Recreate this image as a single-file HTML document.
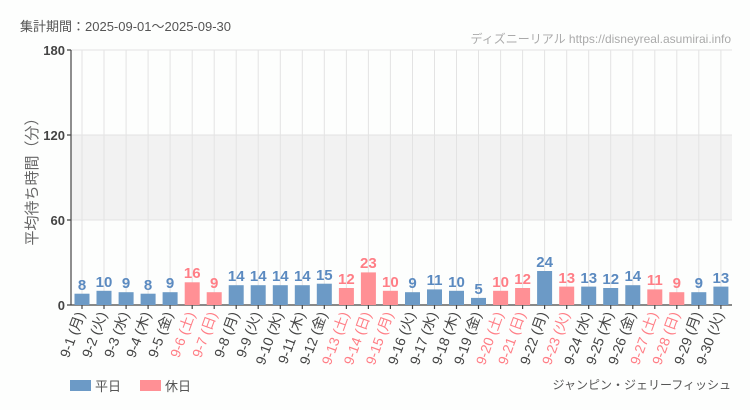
<!DOCTYPE html>
<html><head><meta charset="utf-8"><style>
body{margin:0;background:#fdfefd}
svg{display:block;font-family:"Liberation Sans","Noto Sans CJK JP",sans-serif}
.v{font-family:"Liberation Sans Narrow","Liberation Sans",sans-serif;font-weight:bold;font-size:15px;text-anchor:middle}
.b{fill:#5b8ac0}.r{fill:#ff7e86}
.xl{font-size:14px;text-anchor:end;fill:#444}
.xr{font-size:14px;text-anchor:end;fill:#ff7e86}
</style></head><body>
<svg width="750" height="410" viewBox="0 0 750 410">
<text x="20" y="31" font-size="13" fill="#555">集計期間：2025-09-01～2025-09-30</text>
<text x="731" y="43" font-size="12" fill="#aaa" text-anchor="end" font-family="Liberation Sans Narrow, Liberation Sans, Noto Sans CJK JP, sans-serif">ディズニーリアル https://disneyreal.asumirai.info</text>
<rect x="71" y="135" width="661" height="85" fill="#f2f2f2"/>
<g stroke="#e3e3e3" stroke-width="1">
<line x1="71" y1="50" x2="732" y2="50"/><line x1="71" y1="135" x2="732" y2="135"/><line x1="71" y1="220" x2="732" y2="220"/>
<path d="M82 50V305M104 50V305M126.1 50V305M148.1 50V305M170.1 50V305M192.2 50V305M214.2 50V305M236.2 50V305M258.2 50V305M280.3 50V305M302.3 50V305M324.3 50V305M346.4 50V305M368.4 50V305M390.4 50V305M412.5 50V305M434.5 50V305M456.5 50V305M478.5 50V305M500.6 50V305M522.6 50V305M544.6 50V305M566.7 50V305M588.7 50V305M610.7 50V305M632.8 50V305M654.8 50V305M676.8 50V305M698.8 50V305M720.9 50V305"/>
</g>
<g stroke="#444" stroke-width="1.2">
<line x1="71" y1="50" x2="71" y2="305"/><line x1="71" y1="305" x2="732" y2="305"/>
<path d="M67 50H71M67 135H71M67 220H71M67 305H71"/>
<path d="M82 305v4M104 305v4M126.1 305v4M148.1 305v4M170.1 305v4M192.2 305v4M214.2 305v4M236.2 305v4M258.2 305v4M280.3 305v4M302.3 305v4M324.3 305v4M346.4 305v4M368.4 305v4M390.4 305v4M412.5 305v4M434.5 305v4M456.5 305v4M478.5 305v4M500.6 305v4M522.6 305v4M544.6 305v4M566.7 305v4M588.7 305v4M610.7 305v4M632.8 305v4M654.8 305v4M676.8 305v4M698.8 305v4M720.9 305v4"/>
</g>
<g font-size="13" font-weight="bold" fill="#444" text-anchor="end">
<text x="65" y="55">180</text><text x="65" y="140">120</text><text x="65" y="225">60</text><text x="65" y="310">0</text>
</g>
<text transform="translate(37,178) rotate(-90)" font-size="15" fill="#666" text-anchor="middle">平均待ち時間（分）</text>
<g>
<g transform="translate(82,0)"><rect x="-7.5" y="293.7" width="15" height="11.3" fill="#6c9ac6"/><text class="v b" y="290">8</text><text class="xl" transform="translate(3,314) rotate(-70)">9-1 (月)</text></g>
<g transform="translate(104,0)"><rect x="-7.5" y="290.8" width="15" height="14.2" fill="#6c9ac6"/><text class="v b" y="287">10</text><text class="xl" transform="translate(3,314) rotate(-70)">9-2 (火)</text></g>
<g transform="translate(126.1,0)"><rect x="-7.5" y="292.2" width="15" height="12.8" fill="#6c9ac6"/><text class="v b" y="288">9</text><text class="xl" transform="translate(3,314) rotate(-70)">9-3 (水)</text></g>
<g transform="translate(148.1,0)"><rect x="-7.5" y="293.7" width="15" height="11.3" fill="#6c9ac6"/><text class="v b" y="290">8</text><text class="xl" transform="translate(3,314) rotate(-70)">9-4 (木)</text></g>
<g transform="translate(170.1,0)"><rect x="-7.5" y="292.2" width="15" height="12.8" fill="#6c9ac6"/><text class="v b" y="288">9</text><text class="xl" transform="translate(3,314) rotate(-70)">9-5 (金)</text></g>
<g transform="translate(192.2,0)"><rect x="-7.5" y="282.3" width="15" height="22.7" fill="#ff9095"/><text class="v r" y="278">16</text><text class="xr" transform="translate(3,314) rotate(-70)">9-6 (土)</text></g>
<g transform="translate(214.2,0)"><rect x="-7.5" y="292.2" width="15" height="12.8" fill="#ff9095"/><text class="v r" y="288">9</text><text class="xr" transform="translate(3,314) rotate(-70)">9-7 (日)</text></g>
<g transform="translate(236.2,0)"><rect x="-7.5" y="285.2" width="15" height="19.8" fill="#6c9ac6"/><text class="v b" y="281">14</text><text class="xl" transform="translate(3,314) rotate(-70)">9-8 (月)</text></g>
<g transform="translate(258.2,0)"><rect x="-7.5" y="285.2" width="15" height="19.8" fill="#6c9ac6"/><text class="v b" y="281">14</text><text class="xl" transform="translate(3,314) rotate(-70)">9-9 (火)</text></g>
<g transform="translate(280.3,0)"><rect x="-7.5" y="285.2" width="15" height="19.8" fill="#6c9ac6"/><text class="v b" y="281">14</text><text class="xl" transform="translate(3,314) rotate(-70)">9-10 (水)</text></g>
<g transform="translate(302.3,0)"><rect x="-7.5" y="285.2" width="15" height="19.8" fill="#6c9ac6"/><text class="v b" y="281">14</text><text class="xl" transform="translate(3,314) rotate(-70)">9-11 (木)</text></g>
<g transform="translate(324.3,0)"><rect x="-7.5" y="283.7" width="15" height="21.3" fill="#6c9ac6"/><text class="v b" y="280">15</text><text class="xl" transform="translate(3,314) rotate(-70)">9-12 (金)</text></g>
<g transform="translate(346.4,0)"><rect x="-7.5" y="288" width="15" height="17" fill="#ff9095"/><text class="v r" y="284">12</text><text class="xr" transform="translate(3,314) rotate(-70)">9-13 (土)</text></g>
<g transform="translate(368.4,0)"><rect x="-7.5" y="272.4" width="15" height="32.6" fill="#ff9095"/><text class="v r" y="268">23</text><text class="xr" transform="translate(3,314) rotate(-70)">9-14 (日)</text></g>
<g transform="translate(390.4,0)"><rect x="-7.5" y="290.8" width="15" height="14.2" fill="#ff9095"/><text class="v r" y="287">10</text><text class="xr" transform="translate(3,314) rotate(-70)">9-15 (月)</text></g>
<g transform="translate(412.5,0)"><rect x="-7.5" y="292.2" width="15" height="12.8" fill="#6c9ac6"/><text class="v b" y="288">9</text><text class="xl" transform="translate(3,314) rotate(-70)">9-16 (火)</text></g>
<g transform="translate(434.5,0)"><rect x="-7.5" y="289.4" width="15" height="15.6" fill="#6c9ac6"/><text class="v b" y="285">11</text><text class="xl" transform="translate(3,314) rotate(-70)">9-17 (水)</text></g>
<g transform="translate(456.5,0)"><rect x="-7.5" y="290.8" width="15" height="14.2" fill="#6c9ac6"/><text class="v b" y="287">10</text><text class="xl" transform="translate(3,314) rotate(-70)">9-18 (木)</text></g>
<g transform="translate(478.5,0)"><rect x="-7.5" y="297.9" width="15" height="7.1" fill="#6c9ac6"/><text class="v b" y="294">5</text><text class="xl" transform="translate(3,314) rotate(-70)">9-19 (金)</text></g>
<g transform="translate(500.6,0)"><rect x="-7.5" y="290.8" width="15" height="14.2" fill="#ff9095"/><text class="v r" y="287">10</text><text class="xr" transform="translate(3,314) rotate(-70)">9-20 (土)</text></g>
<g transform="translate(522.6,0)"><rect x="-7.5" y="288" width="15" height="17" fill="#ff9095"/><text class="v r" y="284">12</text><text class="xr" transform="translate(3,314) rotate(-70)">9-21 (日)</text></g>
<g transform="translate(544.6,0)"><rect x="-7.5" y="271" width="15" height="34" fill="#6c9ac6"/><text class="v b" y="267">24</text><text class="xl" transform="translate(3,314) rotate(-70)">9-22 (月)</text></g>
<g transform="translate(566.7,0)"><rect x="-7.5" y="286.6" width="15" height="18.4" fill="#ff9095"/><text class="v r" y="283">13</text><text class="xr" transform="translate(3,314) rotate(-70)">9-23 (火)</text></g>
<g transform="translate(588.7,0)"><rect x="-7.5" y="286.6" width="15" height="18.4" fill="#6c9ac6"/><text class="v b" y="283">13</text><text class="xl" transform="translate(3,314) rotate(-70)">9-24 (水)</text></g>
<g transform="translate(610.7,0)"><rect x="-7.5" y="288" width="15" height="17" fill="#6c9ac6"/><text class="v b" y="284">12</text><text class="xl" transform="translate(3,314) rotate(-70)">9-25 (木)</text></g>
<g transform="translate(632.8,0)"><rect x="-7.5" y="285.2" width="15" height="19.8" fill="#6c9ac6"/><text class="v b" y="281">14</text><text class="xl" transform="translate(3,314) rotate(-70)">9-26 (金)</text></g>
<g transform="translate(654.8,0)"><rect x="-7.5" y="289.4" width="15" height="15.6" fill="#ff9095"/><text class="v r" y="285">11</text><text class="xr" transform="translate(3,314) rotate(-70)">9-27 (土)</text></g>
<g transform="translate(676.8,0)"><rect x="-7.5" y="292.2" width="15" height="12.8" fill="#ff9095"/><text class="v r" y="288">9</text><text class="xr" transform="translate(3,314) rotate(-70)">9-28 (日)</text></g>
<g transform="translate(698.8,0)"><rect x="-7.5" y="292.2" width="15" height="12.8" fill="#6c9ac6"/><text class="v b" y="288">9</text><text class="xl" transform="translate(3,314) rotate(-70)">9-29 (月)</text></g>
<g transform="translate(720.9,0)"><rect x="-7.5" y="286.6" width="15" height="18.4" fill="#6c9ac6"/><text class="v b" y="283">13</text><text class="xl" transform="translate(3,314) rotate(-70)">9-30 (火)</text></g>
</g>
<rect x="70" y="380" width="21" height="11" fill="#6c9ac6"/><text x="95" y="391" font-size="13" fill="#555">平日</text>
<rect x="140" y="380" width="21" height="11" fill="#ff9095"/><text x="165" y="391" font-size="13" fill="#555">休日</text>
<text x="731" y="389" font-size="12" fill="#555" text-anchor="end">ジャンピン・ジェリーフィッシュ</text>
</svg>
</body></html>
